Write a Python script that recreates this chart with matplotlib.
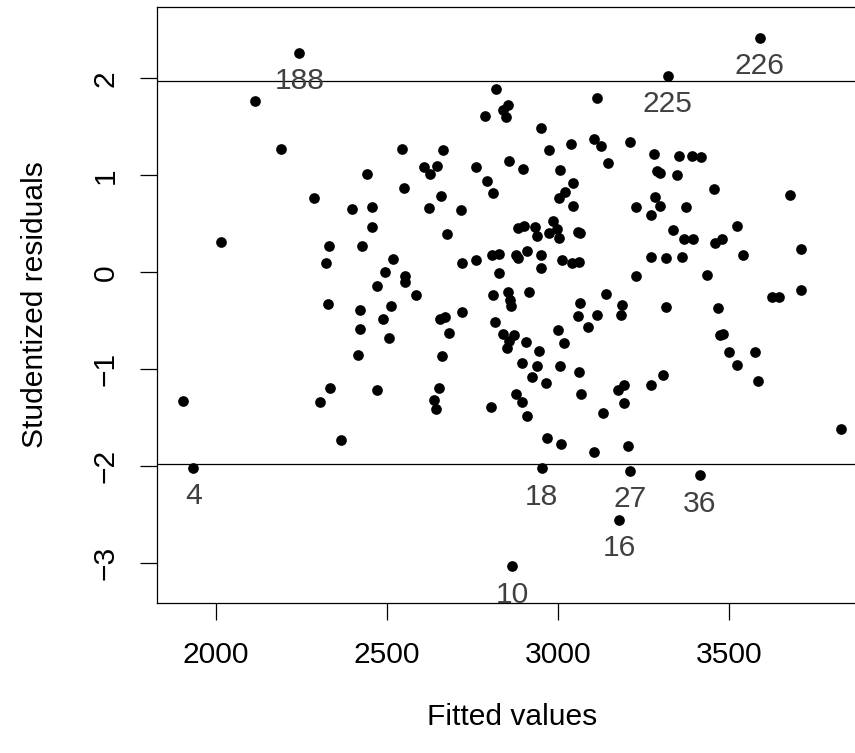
import matplotlib
matplotlib.use("Agg")
import matplotlib.pyplot as plt

# Valores ajustados y residuos studentizados
fitted = [
    2244, 2115, 2190, 2443, 2288, 2399, 2457, 2457, 2017, 2332, 2426, 2322, 2517, 2494,
    2471, 2327, 2421, 2513, 2489, 2421, 2506, 2416, 2335, 2306, 2470, 2365, 1905, 1935,
    2820, 3113, 2854, 2838, 2787, 2847, 2949, 2545, 2665, 2973, 3039, 3105, 3124, 3211,
    3145, 2609, 2645, 2627, 2761, 2856, 2896, 3006, 2549, 2791, 2809, 3043, 3019, 3002,
    3042, 2657, 2623, 2715, 3228, 2677, 2882, 2900, 2933, 2984, 2973, 2997, 3003, 2938,
    3059, 3065, 2720, 2759, 2807, 2827, 2877, 2883, 2908, 2949, 2950, 3012, 3040, 3062,
    2827, 3227, 2554, 2554, 2586, 2809, 2853, 2914, 3140,
    2860, 2863, 3065, 3186, 3185, 3059, 3113, 3088, 2656, 2669, 2720, 2682, 2817, 2838,
    2870, 2857, 2851, 2906, 2943, 3000, 3017, 2660, 2894, 2937, 3006, 3060, 2925, 2964,
    3068, 2652, 2638, 2643, 2803, 2878, 2895, 2910, 3132, 3175, 3191, 3192, 2968, 3007,
    3104, 3204, 2952, 3209, 3179, 2865,
    3589, 3320, 3281, 3353, 3391, 3416, 3288, 3296, 3348, 3454, 3677, 3282, 3296, 3271,
    3372, 3336, 3368, 3393, 3458, 3479, 3523, 3710, 3271, 3315, 3361, 3541, 3434, 3624,
    3645, 3709, 3316, 3468, 3473, 3481, 3498, 3575, 3522, 3584, 3270, 3306, 3413, 3825,
]
resid = [
    2.267, 1.765, 1.273, 1.019, 0.768, 0.650, 0.671, 0.468, 0.314, 0.268, 0.268, 0.097, 0.134, 0.000,
    -0.144, -0.326, -0.385, -0.351, -0.485, -0.588, -0.681, -0.857, -1.200, -1.342, -1.221, -1.730, -1.334, -2.019,
    1.889, 1.796, 1.727, 1.676, 1.614, 1.600, 1.486, 1.273, 1.259, 1.259, 1.325, 1.380, 1.300, 1.342,
    1.132, 1.084, 1.094, 1.015, 1.084, 1.153, 1.070, 1.060, 0.867, 0.939, 0.819, 0.926, 0.826, 0.764,
    0.688, 0.788, 0.668, 0.640, 0.671, 0.392, 0.458, 0.475, 0.464, 0.526, 0.407, 0.441, 0.358, 0.372,
    0.417, 0.407, 0.093, 0.124, 0.179, 0.190, 0.179, 0.149, 0.221, 0.179, 0.045, 0.124, 0.100, 0.110,
    -0.013, -0.037, -0.044, -0.103, -0.233, -0.233, -0.209, -0.209, -0.223,
    -0.292, -0.353, -0.316, -0.336, -0.440, -0.457, -0.444, -0.563, -0.485, -0.464, -0.406, -0.626, -0.516, -0.636,
    -0.653, -0.715, -0.784, -0.722, -0.818, -0.598, -0.729, -0.867, -0.942, -0.973, -0.966, -1.028, -1.083, -1.146,
    -1.255, -1.200, -1.324, -1.410, -1.393, -1.255, -1.338, -1.489, -1.455, -1.218, -1.169, -1.352, -1.709, -1.771,
    -1.861, -1.796, -2.026, -2.054, -2.562, -3.037,
    2.419, 2.030, 1.222, 1.201, 1.204, 1.194, 1.050, 1.026, 1.005, 0.861, 0.799, 0.774, 0.685, 0.595,
    0.678, 0.437, 0.341, 0.348, 0.299, 0.348, 0.479, 0.237, 0.162, 0.145, 0.155, 0.175, -0.031, -0.258,
    -0.258, -0.179, -0.357, -0.372, -0.646, -0.636, -0.826, -0.826, -0.956, -1.125, -1.162, -1.063, -2.098, -1.620,
]

# Observaciones etiquetadas (indice en las listas -> numero de observacion)
etiq_idx = [0, 27, 137, 138, 139, 140, 141, 142, 181]
etiq_txt = ["188", "4", "18", "27", "16", "10", "226", "225", "36"]

corte = 1.975  # limites de referencia

plt.rcParams['font.family'] = ['Liberation Sans', 'DejaVu Sans']
FS = 21.6

fig = plt.figure(figsize=(8.55, 7.53), dpi=100)
ax = fig.add_axes([0.1833, 0.1988, 0.8308, 0.7923])

ax.plot(fitted, resid, 'o', color='black', markersize=7.7, markeredgewidth=0)
ax.axhline(corte, color='black', lw=0.9)
ax.axhline(-corte, color='black', lw=0.9)

for i, t in zip(etiq_idx, etiq_txt):
    ax.annotate(t, (fitted[i], resid[i]), xytext=(0, -26), textcoords='offset points',
                ha='center', va='baseline', fontsize=FS, color='#404040')

ax.set_xlim(1828, 3902)
ax.set_ylim(-3.418, 2.741)
ax.set_xticks([2000, 2500, 3000, 3500])
ax.set_yticks([-3, -2, -1, 0, 1, 2])
ax.set_yticklabels(['\u22123', '\u22122', '\u22121', '0', '1', '2'])

for s in ax.spines.values():
    s.set_linewidth(0.9)
ax.tick_params(length=12.5, width=0.9, labelsize=FS, direction='out')
ax.tick_params(axis='x', pad=15)
ax.tick_params(axis='y', pad=14)
for lbl in ax.get_yticklabels():
    lbl.set_rotation(90)
    lbl.set_va('center')

ax.set_xlabel("Fitted values", fontsize=FS, labelpad=24)
ax.set_ylabel("Studentized residuals", fontsize=FS, labelpad=31)

fig.savefig("out.png", dpi=100)
